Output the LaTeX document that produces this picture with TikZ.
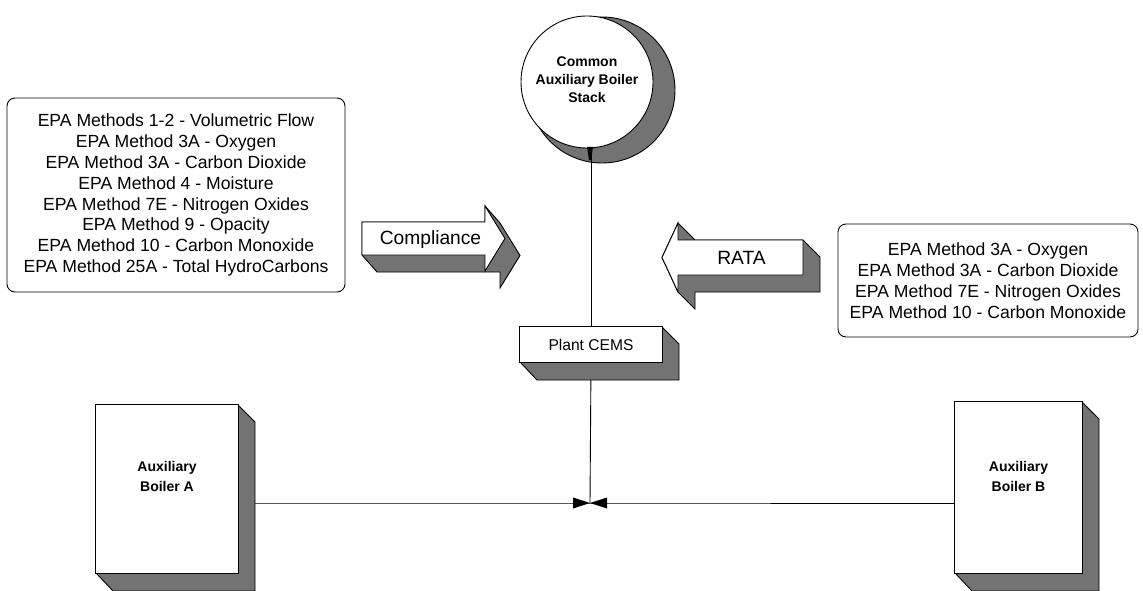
\documentclass[tikz,border=0pt]{standalone}
\usepackage{fontspec}
\setmainfont{Liberation Sans}
\begin{document}
\begin{tikzpicture}[x=1pt,y=-1pt,
  shadow3d/.style={fill=black!55, draw=black, line width=0.9pt, line join=miter},
  face/.style={fill=white, draw=black, line width=0.9pt},
  listtxt/.style={align=center, font=\fontsize{17.6}{20.9}\selectfont, inner sep=0pt},
  boldtxt/.style={align=center, font=\bfseries\fontsize{14}{18}\selectfont, inner sep=0pt},
  arrtxt/.style={font=\fontsize{19.2}{22}\selectfont, inner sep=0pt},
  conn/.style={draw=black, line width=0.9pt}]
\useasboundingbox (0,0) rectangle (1143,591);

% ---- named anchors
\coordinate (v) at (590,503);

% ---- boxes with method lists
\node[draw, line width=0.9pt, rounded corners=8pt, minimum width=338pt, minimum height=194pt, listtxt] (compl) at (176,195)
 {EPA Methods 1-2 - Volumetric Flow\\EPA Method 3A - Oxygen\\EPA Method 3A - Carbon Dioxide\\EPA Method 4 - Moisture\\EPA Method 7E - Nitrogen Oxides\\EPA Method 9 - Opacity\\EPA Method 10 - Carbon Monoxide\\EPA Method 25A - Total HydroCarbons};
\node[draw, line width=0.9pt, rounded corners=8pt, minimum width=300pt, minimum height=113pt, listtxt] (rata) at (988,280.5)
 {EPA Method 3A - Oxygen\\EPA Method 3A - Carbon Dioxide\\EPA Method 7E - Nitrogen Oxides\\EPA Method 10 - Carbon Monoxide};

% ---- connectors (drawn first, shapes on top)
\node[minimum width=142pt, minimum height=35pt, inner sep=0pt] (cems) at (591,344.5) {};
\node[minimum width=142pt, minimum height=168pt, inner sep=0pt] (ba) at (167,489) {};
\node[minimum width=127pt, minimum height=171pt, inner sep=0pt] (bb) at (1018.5,487.5) {};
\node[circle, minimum size=132pt, inner sep=0pt] (stack) at (587,82) {};

\draw[conn] (cems.north |- stack.south) -- (cems.north);
\draw[conn] (cems.south) -- (v);
\draw[conn] (ba.east |- v) -- (v) -- (bb.west |- v);
\fill (573,497.5) -- (v) -- (573,508.5) -- cycle;
\fill (607,497.5) -- (v) -- (607,508.5) -- cycle;

% ---- stack
\fill[black!55] (602,90) circle (73);
\draw[line width=0.9pt] (602,90) circle (73);
\node[circle, face, minimum size=132pt, inner sep=0pt] at (stack) {};
\fill (587,147) -- (593,147) -- (591,160) -- (589,160) -- cycle;
\draw[conn] (cems.north |- stack.south) -- ++(0,14);
\node[boldtxt] (stacktxt) at (587,80) {Common\\Auxiliary Boiler\\Stack};

% ---- Plant CEMS
\draw[shadow3d] (520,327) -- (662,327) -- (679,344) -- (679,380) -- (537,380) -- (520,362) -- cycle;
\draw[face] (cems.south west) rectangle (cems.north east);
\node[font=\fontsize{15.6}{18}\selectfont, inner sep=0pt] (cemstxt) at (cems) {Plant CEMS};

% ---- boilers
\draw[shadow3d] (96,405) -- (238,405) -- (255,422) -- (255,591) -- (113,591) -- (96,573) -- cycle;
\draw[face] (ba.south west) rectangle (ba.north east);
\node[boldtxt, font=\bfseries\fontsize{14}{20.5}\selectfont] (batxt) at (167,476.5) {Auxiliary\\Boiler A};

\draw[shadow3d] (955,402) -- (1082,402) -- (1099,419) -- (1099,591) -- (972,591) -- (955,573) -- cycle;
\draw[face] (bb.south west) rectangle (bb.north east);
\node[boldtxt, font=\bfseries\fontsize{14}{20.5}\selectfont] (bbtxt) at (1018.5,476.5) {Auxiliary\\Boiler B};

% ---- Compliance arrow
\draw[shadow3d] (362,222) -- (485,222) -- (485,206) -- (500,223) -- (520,255.5) -- (500,288) -- (500,272) -- (377,272) -- (362,255) -- cycle;
\draw[face, line join=miter] (362,222) -- (485,222) -- (485,206) -- (505,238.5) -- (485,271) -- (485,255) -- (362,255) -- cycle;
\node[arrtxt] (compltxt) at (430.5,240) {Compliance};

% ---- RATA arrow
\draw[shadow3d] (662,257.5) -- (678,223) -- (695,240) -- (803,240) -- (820,257) -- (820,292) -- (695,292) -- (695,309) -- (678,292) -- cycle;
\draw[face, line join=miter] (662,257.5) -- (678,223) -- (678,240) -- (803,240) -- (803,275) -- (678,275) -- (678,292) -- cycle;
\node[arrtxt] (ratatxt) at (741.5,258) {RATA};
\end{tikzpicture}
\end{document}
